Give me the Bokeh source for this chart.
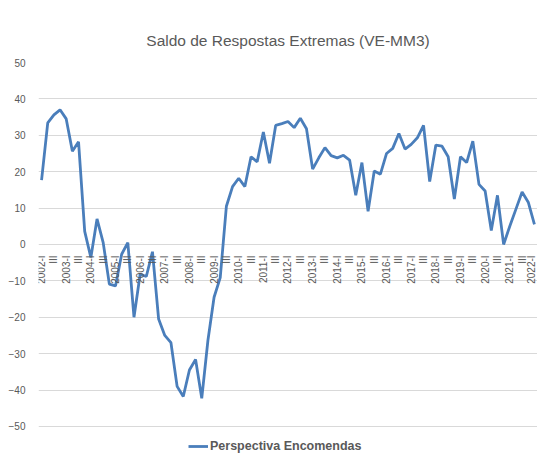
import math
from bokeh.plotting import figure
from bokeh.models import Range1d, FixedTicker, Legend, LegendItem, ColumnDataSource
from bokeh.embed import file_html
from bokeh.resources import INLINE

# Quarterly categories 2002-I .. 2022-I
years = list(range(2002, 2023))
quarters = ["I", "II", "III", "IV"]
categories = []
for y in years:
    for q in quarters:
        if y == 2022 and q != "I":
            continue
        categories.append(f"{y}-{q}")

# Saldo de respostas extremas - Perspectiva Encomendas
perspectiva_encomendas = [
    17.7, 33.4, 35.6, 37.0, 34.5, 25.6, 28.2, 3.6, -3.6, 7.0,
    0.5, -10.9, -11.4, -2.7, 0.5, -20.0, -8.2, -8.8, -2.0, -20.5,
    -25.0, -27.0, -39.0, -41.8, -34.5, -31.6, -42.3, -26.4, -14.5, -9.1,
    10.5, 15.9, 18.2, 15.9, 24.1, 22.7, 30.9, 22.3, 32.7, 33.2,
    33.8, 32.1, 34.7, 31.8, 20.7, 23.8, 26.6, 24.4, 23.8, 24.5,
    23.2, 13.5, 22.5, 9.1, 20.2, 19.3, 25.0, 26.4, 30.5, 26.2,
    27.5, 29.3, 32.7, 17.3, 27.3, 27.0, 24.1, 12.5, 24.1, 22.5,
    28.4, 16.5, 14.7, 3.8, 13.5, 0.0, 5.0, 9.7, 14.4, 11.6,
    5.5,
]

y_ticks = [-50, -40, -30, -20, -10, 0, 10, 20, 30, 40, 50]

# tick labels as in the Excel axis: year for Q-I, roman numeral otherwise
tick_labels = [c if c.endswith("-I") else c.split("-")[1] for c in categories]

idx = list(range(len(categories)))
src = ColumnDataSource(data=dict(x=idx, y=perspectiva_encomendas, cat=categories))

TXT = "#595959"
GRID = "#d9d9d9"
FONT = "Liberation Sans"

# y range extends below -50 to leave room for the legend inside the frame
p = figure(width=537, height=455, output_backend="svg", toolbar_location=None,
           x_range=Range1d(-0.5, len(categories) - 0.5), y_range=Range1d(-58, 50),
           min_border_left=38, min_border_right=0, min_border_top=62, min_border_bottom=0)

p.title.text = "Saldo de Respostas Extremas (VE-MM3)"
p.title.align = "center"
p.title.vertical_align = "top"
p.title.text_font = FONT
p.title.text_font_size = "15.5px"
p.title.text_font_style = "normal"
p.title.text_color = TXT
p.title.standoff = 23

r = p.line("x", "y", source=src, line_color="#4a7ebb", line_width=2.8)

p.outline_line_color = None
p.background_fill_color = "white"
p.xgrid.grid_line_color = None
p.ygrid.grid_line_color = GRID
p.ygrid.grid_line_width = 1

p.yaxis.ticker = FixedTicker(ticks=y_ticks)
p.yaxis.axis_line_color = None
p.yaxis.major_tick_line_color = None
p.yaxis.minor_tick_line_color = None
p.yaxis.major_label_text_font = FONT
p.yaxis.major_label_text_font_size = "10px"
p.yaxis.major_label_text_color = TXT
p.yaxis.major_label_standoff = 7

xa = p.xaxis[0]
xa.fixed_location = 0
xa.ticker = FixedTicker(ticks=[i for i in idx if i % 2 == 0])
xa.major_label_overrides = {i: tick_labels[i] for i in idx}
xa.major_label_orientation = math.pi / 2
xa.axis_line_color = None
xa.major_tick_line_color = None
xa.minor_tick_line_color = None
xa.major_label_text_font = FONT
xa.major_label_text_font_size = "10px"
xa.major_label_text_color = TXT
xa.major_label_standoff = 5

legend = Legend(items=[LegendItem(label="Perspectiva Encomendas", renderers=[r])],
                location=(150, 2), orientation="horizontal",
                padding=0, margin=0, spacing=0,
                label_text_font=FONT, label_text_font_size="12.5px",
                label_text_font_style="bold",
                label_text_color=TXT, label_standoff=2,
                glyph_width=20, glyph_height=14, label_height=14,
                border_line_color=None, background_fill_alpha=0)
p.add_layout(legend, "center")

open("out.html", "w").write(file_html(p, INLINE))
